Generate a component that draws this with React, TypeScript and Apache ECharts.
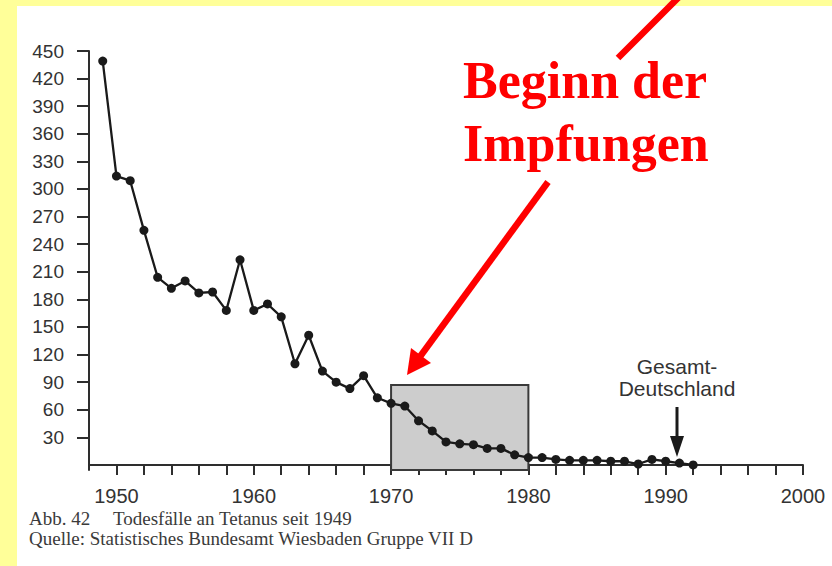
import React, { useEffect, useRef } from "react";
import * as echarts from "echarts";

const years = [1949, 1950, 1951, 1952, 1953, 1954, 1955, 1956, 1957, 1958, 1959, 1960, 1961, 1962, 1963, 1964, 1965, 1966, 1967, 1968, 1969, 1970, 1971, 1972, 1973, 1974, 1975, 1976, 1977, 1978, 1979, 1980, 1981, 1982, 1983, 1984, 1985, 1986, 1987, 1988, 1989, 1990, 1991, 1992];
const deaths = [439, 314, 309, 255, 204, 192, 200, 187, 188, 168, 223, 168, 175, 161, 110, 141, 102, 90, 83, 97, 73, 67, 64, 48, 37, 25, 23, 22, 18, 18, 11, 8, 8, 6, 5, 5, 5, 4, 4, 1, 6, 4, 2, 0];
const yTickValues = [30, 60, 90, 120, 150, 180, 210, 240, 270, 300, 330, 360, 390, 420, 450];
const xTickValues = [1950, 1952, 1954, 1956, 1958, 1960, 1962, 1964, 1966, 1968, 1970, 1972, 1974, 1976, 1978, 1980, 1982, 1984, 1986, 1988, 1990, 1992, 1994, 1996, 1998, 2000];
const xLabelValues = [1950, 1960, 1970, 1980, 1990, 2000];
const vaccinationPeriod = [1970, 1980];
const shadeTop = 87;

export default function App() {
  const ref = useRef<HTMLDivElement>(null);
  useEffect(() => {
    if (!ref.current) return;
    const chart = echarts.init(ref.current, undefined, { renderer: "svg" });
    const axisColor = "#2e2e2e";
    const option: any = {
      animation: false,
      backgroundColor: "#ffff99",
      grid: { left: 89, right: 29, top: 51, bottom: 96 },
      xAxis: {
        type: "value",
        min: 1948,
        max: 2000,
        splitLine: { show: false },
        axisLine: { lineStyle: { color: axisColor, width: 2 } },
        axisTick: { customValues: xTickValues, length: 10, lineStyle: { color: axisColor, width: 2 } },
        axisLabel: {
          customValues: xLabelValues,
          formatter: (v: number) => String(v),
          margin: 16,
          color: "#333",
          fontSize: 20,
          fontFamily: "Liberation Sans, Arial, sans-serif",
        },
      },
      yAxis: {
        type: "value",
        min: -5.5,
        max: 450,
        splitLine: { show: false },
        axisLine: { show: true, lineStyle: { color: axisColor, width: 2 } },
        axisTick: { show: true, customValues: yTickValues, length: 12, lineStyle: { color: axisColor, width: 2 } },
        axisLabel: {
          customValues: yTickValues,
          formatter: (v: number) => String(v),
          margin: 25,
          color: "#333",
          fontSize: 19,
          fontFamily: "Liberation Sans, Arial, sans-serif",
        },
      },
      series: [
        {
          type: "line",
          data: years.map((y, i) => [y, deaths[i]]),
          symbol: "circle",
          symbolSize: 9,
          itemStyle: { color: "#1a1a1a" },
          lineStyle: { color: "#1a1a1a", width: 2.3 },
          z: 5,
          markArea: {
            silent: true,
            itemStyle: { color: "#cdcdcd", borderColor: "#3a3a3a", borderWidth: 2 },
            data: [[{ xAxis: vaccinationPeriod[0], yAxis: -5.5 }, { xAxis: vaccinationPeriod[1], yAxis: shadeTop }]],
          },
        },
      ],
      graphic: [
        { type: "rect", z: -10, shape: { x: 17, y: 6, width: 820, height: 570 }, style: { fill: "#ffffff" } },
        { type: "line", shape: { x1: 680, y1: -4, x2: 618, y2: 58 }, style: { stroke: "#ff0000", lineWidth: 6.5 } },
        { type: "line", shape: { x1: 548, y1: 182, x2: 419, y2: 358 }, style: { stroke: "#ff0000", lineWidth: 6.5 } },
        { type: "polygon", shape: { points: [[407, 375], [411, 348], [431, 363]] }, style: { fill: "#ff0000" } },
        {
          type: "text", x: 463, y: 80,
          style: { text: "Beginn der", fill: "#ff0000", fontSize: 52, fontWeight: "bold", fontFamily: "Liberation Serif, Times New Roman, serif", textVerticalAlign: "middle" },
        },
        {
          type: "text", x: 463, y: 143,
          style: { text: "Impfungen", fill: "#ff0000", fontSize: 52, fontWeight: "bold", fontFamily: "Liberation Serif, Times New Roman, serif", textVerticalAlign: "middle" },
        },
        {
          type: "text", x: 677, y: 366,
          style: { text: "Gesamt-", fill: "#333", fontSize: 21, fontFamily: "Liberation Sans, Arial, sans-serif", textAlign: "center", textVerticalAlign: "middle" },
        },
        {
          type: "text", x: 677, y: 388,
          style: { text: "Deutschland", fill: "#333", fontSize: 21, fontFamily: "Liberation Sans, Arial, sans-serif", textAlign: "center", textVerticalAlign: "middle" },
        },
        { type: "line", shape: { x1: 677, y1: 407, x2: 677, y2: 440 }, style: { stroke: "#1a1a1a", lineWidth: 3 } },
        { type: "polygon", shape: { points: [[670, 436], [684, 436], [677, 457]] }, style: { fill: "#1a1a1a" } },
        {
          type: "text", x: 29, y: 518,
          style: { text: "Abb. 42", fill: "#3a3a3a", fontSize: 19, fontFamily: "Liberation Serif, Times New Roman, serif", textVerticalAlign: "middle" },
        },
        {
          type: "text", x: 113, y: 518,
          style: { text: "Todesfälle an Tetanus seit 1949", fill: "#3a3a3a", fontSize: 19, fontFamily: "Liberation Serif, Times New Roman, serif", textVerticalAlign: "middle" },
        },
        {
          type: "text", x: 29, y: 538,
          style: { text: "Quelle: Statistisches Bundesamt Wiesbaden Gruppe VII D", fill: "#3a3a3a", fontSize: 19, fontFamily: "Liberation Serif, Times New Roman, serif", textVerticalAlign: "middle" },
        },
      ],
    };
    chart.setOption(option);
    return () => chart.dispose();
  }, []);
  return (
    <div style={{ position: "fixed", left: 0, top: 0, width: 832, height: 566, overflow: "hidden" }}>
      <div ref={ref} style={{ width: 832, height: 566 }} />
    </div>
  );
}
